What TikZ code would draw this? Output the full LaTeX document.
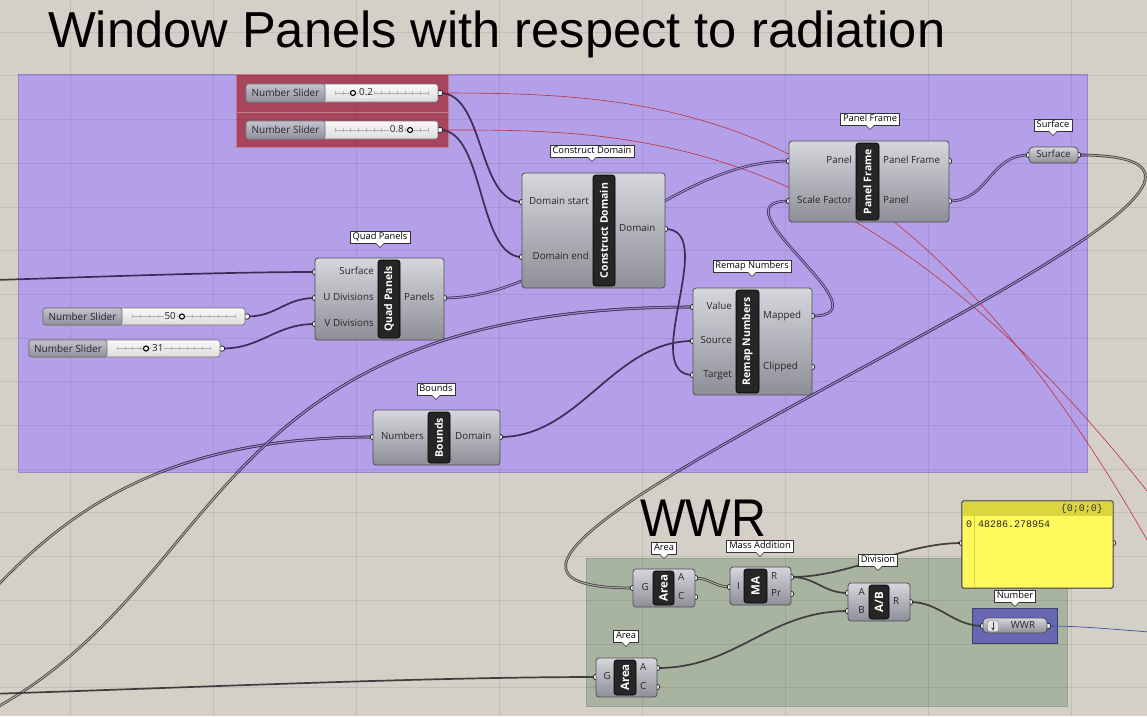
\documentclass[tikz,border=0pt]{standalone}
\usepackage{fontspec}
\setmainfont{Open Sans}
\newfontfamily\titlefont{Liberation Sans}
\newfontfamily\codefont{Liberation Mono}
\usetikzlibrary{arrows.meta}
\pgfdeclarelayer{groups}
\pgfdeclarelayer{wires}
\pgfsetlayers{groups,wires,main}

\definecolor{bgc}{HTML}{D4D0C8}
\definecolor{purplegrp}{HTML}{B4A0E8}
\definecolor{redgrp}{HTML}{A8445E}
\definecolor{greengrp}{HTML}{A8B3A0}
\definecolor{bluegrp}{HTML}{6767B4}
\definecolor{yel}{HTML}{FFF95C}
\definecolor{yelhead}{HTML}{DCD63E}
\definecolor{wirep}{HTML}{3D2C58}
\definecolor{wireg}{HTML}{3E3E3E}
\definecolor{innerp}{HTML}{9E8CCB}
\definecolor{innerg}{HTML}{A9A59D}
\definecolor{compborder}{HTML}{4E4E56}
\definecolor{comptop}{HTML}{D6D6DC}
\definecolor{compbot}{HTML}{8E8E98}
\definecolor{redwire}{HTML}{C0303A}
\definecolor{bluewire}{HTML}{4050B0}
\definecolor{slabtop}{HTML}{C4C4CE}
\definecolor{slabbot}{HTML}{8F8F9D}

\tikzset{
 grp/.style={inner sep=0pt, outer sep=0pt, line width=0.6pt},
 gridl/.style={black, opacity=0.08, line width=0.6pt},
 compbox/.style={draw=compborder, line width=0.8pt, rounded corners=3pt, top color=comptop, bottom color=compbot, inner sep=0pt, outer sep=0pt},
 stripbox/.style={draw=black, fill=black!85, rounded corners=2.5pt, line width=0.6pt, inner sep=0pt, outer sep=0pt},
 striptext/.style={rotate=90, text=white, font=\bfseries\fontsize{10.5}{10.5}\selectfont, inner sep=0pt},
 port/.style={circle, draw=black!85, fill=white, line width=0.8pt, minimum size=5.5pt, inner sep=0pt},
 knob/.style={circle, draw=black, fill=white, line width=1.1pt, minimum size=5pt, inner sep=0pt},
 plabel/.style={font=\fontsize{9.8}{9.8}\selectfont, text=black!85, inner sep=0pt, text height=7pt, text depth=2pt},
 bubble/.style={draw=black!80, fill=white, line width=0.6pt, font=\fontsize{9.3}{9.3}\selectfont, inner xsep=2.5pt, inner ysep=1.8pt, text height=7pt, text depth=1.8pt},
 sliderbox/.style={draw=black!55, line width=0.7pt, rounded corners=2.5pt, top color=white!98!black, bottom color=white!86!black, inner sep=0pt, outer sep=0pt},
 sliderlab/.style={draw=black!55, line width=0.7pt, rounded corners=2.5pt, top color=slabtop, bottom color=slabbot, inner sep=0pt, outer sep=0pt, font=\fontsize{10}{10}\selectfont, text=black!85},
 wire/.style={draw=#1, line width=1.7pt},
 lwire/.style 2 args={draw=#1, line width=0.75pt, double=#2, double distance=1.1pt},
 redw/.style={draw=redwire, line width=0.6pt},
}

\newcommand\ghbubble[3]{%
 \node[bubble] (#1) at (#2) {#3};
 \fill[white] ([xshift=-4pt,yshift=0.5pt]#1.south) -- ([yshift=-4pt]#1.south) -- ([xshift=4pt,yshift=0.5pt]#1.south) -- cycle;
 \draw[black!80, line width=0.6pt] ([xshift=-4pt]#1.south) -- ([yshift=-4pt]#1.south) -- ([xshift=4pt]#1.south);
}
\newcommand\ghcomp[8]{%
 \node[compbox, minimum width={#4-#2}, minimum height={#5-#3}] (#1) at ({(#2+#4)/2},{(#3+#5)/2}) {};
 \node[stripbox, minimum width={#7-#6}, minimum height={#5-#3-4}] (#1-st) at ({(#6+#7)/2},{(#3+#5)/2}) {};
 \node[striptext] (#1-tx) at (#1-st) {#8};
}
\newcommand\ghslider[6]{%
 \pgfmathsetmacro\sym{(#3+#5)/2}
 \node[port] (#1-o) at (#4+2,\sym) {};
 \node[sliderbox, minimum width={#4-#2}, minimum height={#5-#3}] (#1) at ({(#2+#4)/2},\sym) {};
 \pgfmathsetmacro\sta{#6+10}\pgfmathsetmacro\stb{#4-10}
 \draw[black!30, line width=0.5pt] (\sta,\sym) -- (\stb,\sym);
 \foreach \k in {0,...,12} {\draw[black!30, line width=0.4pt] ({\sta+\k*(\stb-\sta)/12},\sym-1.8) -- ({\sta+\k*(\stb-\sta)/12},\sym+1.8);}
 \node[sliderlab, minimum width={#6-#2}, minimum height={#5-#3}] (#1-lb) at ({(#2+#6)/2},\sym) {Number Slider};
}

\begin{document}
\begin{tikzpicture}[x=1pt,y=-1pt]
\useasboundingbox (0,0) rectangle (1147,716);

\begin{pgfonlayer}{groups}
\clip (0,0) rectangle (1147,716);
\fill[bgc] (0,0) rectangle (1147,716);
\node[grp, fill=purplegrp, draw=purplegrp!85!black, minimum width=1069, minimum height=398] (gP) at (552.5,273) {};
\node[grp, fill=redgrp, draw=redgrp!70!white, minimum width=212, minimum height=38] (gR1) at (342,93) {};
\node[grp, fill=redgrp, draw=redgrp!70!white, minimum width=212, minimum height=35] (gR2) at (342,129.5) {};
\node[grp, fill=greengrp, draw=greengrp!90!black, minimum width=481, minimum height=148] (gG) at (826.5,632) {};
\node[grp, fill=bluegrp, draw=bluegrp!60!black, minimum width=85, minimum height=35] (gB) at (1014.5,625.5) {};
\foreach \gx in {70,213,356,499,642,785,928,1071} {\draw[gridl] (\gx,0) -- (\gx,716);}
\foreach \k in {0,...,15} {\draw[gridl] (0,{32+43.7*\k}) -- (1147,{32+43.7*\k});}
\end{pgfonlayer}

% titles
\node[anchor=base west, inner sep=0pt, font=\titlefont\fontsize{50.6}{56}\selectfont] (title) at (48,47) {Window Panels with respect to radiation};
\node[anchor=base west, inner sep=0pt, font=\titlefont\fontsize{52}{52}\selectfont] (wwrtitle) at (640,536) {\scalebox{0.93}[1.02]{WWR}};

% sliders
\ghslider{s1}{246}{84}{438}{102}{325}
\node[plabel, anchor=west, fill=white!93!black, inner xsep=1pt] (s1-v) at (358,93) {0.2};
\node[knob] (s1-k) at (353,93) {};
\ghslider{s2}{246}{121}{438}{139}{325}
\node[plabel, anchor=east, fill=white!92!black, inner xsep=1pt] (s2-v) at (405,130) {0.8};
\node[knob] (s2-k) at (410,130) {};
\ghslider{s3}{43}{308}{245}{325}{122}
\node[plabel, anchor=east, fill=white!92!black, inner xsep=1pt] (s3-v) at (177,316.5) {50};
\node[knob] (s3-k) at (182,316.5) {};
\ghslider{s4}{29}{340}{220}{357}{107}
\node[plabel, anchor=west, fill=white!92!black, inner xsep=1pt] (s4-v) at (151,348.5) {31};
\node[knob] (s4-k) at (146,348.5) {};

% Quad Panels
\node[port] (qp-s) at (315,272) {};
\node[port] (qp-u) at (315,298) {};
\node[port] (qp-v) at (315,324) {};
\node[port] (qp-p) at (444,298) {};
\ghcomp{qp}{315}{258}{444}{340}{378}{400}{Quad Panels}
\node[plabel, anchor=east] (qp-sl) at (374,272) {Surface};
\node[plabel, anchor=east] (qp-ul) at (374,298) {U Divisions};
\node[plabel, anchor=east] (qp-vl) at (374,324) {V Divisions};
\node[plabel, anchor=west] (qp-pl) at (404,298) {Panels};
\ghbubble{qp-lab}{380,237}{Quad Panels}

% Construct Domain
\node[port] (cd-s) at (522,202) {};
\node[port] (cd-e) at (522,257) {};
\node[port] (cd-d) at (665,229) {};
\ghcomp{cd}{522}{173}{665}{288}{593}{615}{Construct Domain}
\node[plabel, anchor=east] (cd-sl) at (589,202) {Domain start};
\node[plabel, anchor=east] (cd-el) at (589,257) {Domain end};
\node[plabel, anchor=west] (cd-dl) at (619,229) {Domain};
\ghbubble{cd-lab}{592,151}{Construct Domain}

% Panel Frame
\node[port] (pf-p) at (789,161) {};
\node[port] (pf-sf) at (789,201) {};
\node[port] (pf-pf) at (949,161) {};
\node[port] (pf-pn) at (949,201) {};
\ghcomp{pf}{789}{141}{949}{222}{856}{879}{Panel Frame}
\node[plabel, anchor=east] (pf-pl) at (852,161) {Panel};
\node[plabel, anchor=east] (pf-sfl) at (852,201) {Scale Factor};
\node[plabel, anchor=west] (pf-pfl) at (883,161) {Panel Frame};
\node[plabel, anchor=west] (pf-pnl) at (883,201) {Panel};
\ghbubble{pf-lab}{870,119}{Panel Frame}

% Surface param
\node[port] (sf-i) at (1029,155) {};
\node[port] (sf-o) at (1078,155) {};
\node[compbox, rounded corners=4pt, minimum width=49, minimum height=16] (sf) at (1053.5,155) {};
\node[plabel] (sf-t) at (1053.5,155) {Surface};
\ghbubble{sf-lab}{1053,125}{Surface}

% Remap Numbers
\node[port] (rn-v) at (693,307) {};
\node[port] (rn-s) at (693,341) {};
\node[port] (rn-t) at (693,375) {};
\node[port] (rn-m) at (812,316) {};
\node[port] (rn-c) at (812,367) {};
\ghcomp{rn}{693}{288}{812}{395}{736}{759}{Remap Numbers}
\node[plabel, anchor=east] (rn-vl) at (732,307) {Value};
\node[plabel, anchor=east] (rn-sl) at (732,341) {Source};
\node[plabel, anchor=east] (rn-tl) at (732,375) {Target};
\node[plabel, anchor=west] (rn-ml) at (763,316) {Mapped};
\node[plabel, anchor=west] (rn-cl) at (763,367) {Clipped};
\ghbubble{rn-lab}{752,266}{Remap Numbers}

% Bounds
\node[port] (bd-n) at (373,437) {};
\node[port] (bd-d) at (500,437) {};
\ghcomp{bd}{373}{410}{500}{465}{428}{450}{Bounds}
\node[plabel, anchor=east] (bd-nl) at (424,437) {Numbers};
\node[plabel, anchor=west] (bd-dl) at (455,437) {Domain};
\ghbubble{bd-lab}{436,389}{Bounds}

% Area 1
\node[port] (a1-g) at (633,588) {};
\node[port] (a1-a) at (695,578) {};
\node[port] (a1-c) at (695,597) {};
\ghcomp{a1}{633}{569}{695}{607}{653}{674}{\fontsize{11.5}{11.5}\selectfont Area}
\node[plabel, anchor=east] (a1-gl) at (649,588) {G};
\node[plabel, anchor=west] (a1-al) at (678,578) {A};
\node[plabel, anchor=west] (a1-cl) at (678,597) {C};
\ghbubble{a1-lab}{664,548}{Area}

% Mass Addition
\node[port] (ma-i) at (730,587) {};
\node[port] (ma-r) at (791,577) {};
\node[port] (ma-p) at (791,594) {};
\ghcomp{ma}{730}{567}{791}{605}{744}{767}{\fontsize{11.5}{11.5}\selectfont MA}
\node[plabel, anchor=east] (ma-il) at (740,587) {I};
\node[plabel, anchor=west] (ma-rl) at (771,577) {R};
\node[plabel, anchor=west] (ma-pl) at (771,594) {Pr};
\ghbubble{ma-lab}{760,546}{Mass Addition}

% Division
\node[port] (dv-a) at (848,593) {};
\node[port] (dv-b) at (848,611) {};
\node[port] (dv-r) at (910,602) {};
\ghcomp{dv}{848}{583}{910}{621}{869}{889}{\fontsize{11.5}{11.5}\selectfont A/B}
\node[plabel, anchor=east] (dv-al) at (865,593) {A};
\node[plabel, anchor=east] (dv-bl) at (865,611) {B};
\node[plabel, anchor=west] (dv-rl) at (893,602) {R};
\ghbubble{dv-lab}{878,560}{Division}

% Area 2
\node[port] (a2-g) at (596,677) {};
\node[port] (a2-a) at (657,668) {};
\node[port] (a2-c) at (657,687) {};
\ghcomp{a2}{596}{658}{657}{697}{614}{636}{\fontsize{11.5}{11.5}\selectfont Area}
\node[plabel, anchor=east] (a2-gl) at (611,677) {G};
\node[plabel, anchor=west] (a2-al) at (640,668) {A};
\node[plabel, anchor=west] (a2-cl) at (640,687) {C};
\ghbubble{a2-lab}{626,636}{Area}

% Yellow panel
\node[port] (yp-i) at (962,543) {};
\node[port] (yp-o) at (1113,543) {};
\node[fill=yel, draw=black!70, line width=0.7pt, rounded corners=2pt, minimum width=151, minimum height=87, inner sep=0pt] (yp) at (1037.5,544.5) {};
\node[fill=yelhead, minimum width=149.5, minimum height=14, inner sep=0pt] (yp-h) at (1037.5,508.5) {};
\draw[black!70, line width=0.7pt, rounded corners=2pt] (yp.south west) rectangle (yp.north east);
\draw[yelhead, line width=0.6pt] (974,516) -- (974,587);
\node[anchor=east, inner sep=0pt, font=\codefont\fontsize{10}{10}\selectfont, text=black!80] (yp-hd) at (1103,508.5) {\{0;0;0\}};
\node[anchor=west, inner sep=0pt, font=\codefont\fontsize{10}{10}\selectfont, text=black!85] (yp-val) at (966,524) {0 48286.278954};

% Number param
\node[port] (nm-i) at (983,626) {};
\node[port] (nm-o) at (1048,626) {};
\node[compbox, rounded corners=4pt, minimum width=64, minimum height=15] (nm) at (1015,625.5) {};
\node[draw=black!55, fill=white!90!black, rounded corners=1.5pt, minimum width=11, minimum height=11, inner sep=0pt] (nm-ic) at (993,626) {};
\draw[-{Stealth[length=3pt,width=3.5pt]}, line width=0.8pt, black!75] (993,621.5) -- (993,630.5);
\node[plabel] (nm-t) at (1023,626) {WWR};
\ghbubble{nm-lab}{1015,596}{Number}

% off-canvas ends
\coordinate (wA) at (-493,863);
\coordinate (wB) at (-341,779);
\coordinate (wS) at (-200,284);
\coordinate (wG) at (-300,700);
\coordinate (rE1) at (1230,700);
\coordinate (rE2) at (1260,650);
\coordinate (bE) at (1200,634);

\begin{pgfonlayer}{wires}
\clip (0,0) rectangle (1147,716);
\draw[redw] (s1-o.center) .. controls (700,93) and (950,110) .. (rE1);
\draw[redw] (s2-o.center) .. controls (650,130) and (920,125) .. (rE2);
% long wires, outside colours
\draw[lwire={wireg}{innerg}] (wA) .. controls +(500,0) and +(-500,0) .. (bd-n.center);
\draw[lwire={wireg}{innerg}] (wB) .. controls +(640,0) and +(-640,0) .. (rn-v.center);
\draw[lwire={wireg}{innerg}] (sf-o.center) .. controls +(350,0) and +(-350,0) .. (a1-g.center);
\begin{scope}
\clip (18,74) rectangle (1087,472);
\draw[lwire={wirep}{innerp}] (wA) .. controls +(500,0) and +(-500,0) .. (bd-n.center);
\draw[lwire={wirep}{innerp}] (wB) .. controls +(640,0) and +(-640,0) .. (rn-v.center);
\draw[lwire={wirep}{innerp}] (sf-o.center) .. controls +(350,0) and +(-350,0) .. (a1-g.center);
\draw[wire=wirep] (wS) .. controls +(150,0) and +(-150,0) .. (qp-s.center);
\end{scope}
\begin{scope}
\clip (0,0) rectangle (18,716);
\draw[wire=wireg] (wS) .. controls +(150,0) and +(-150,0) .. (qp-s.center);
\end{scope}
\draw[wire=wirep] (s3-o.center) .. controls +(30,0) and +(-30,0) .. (qp-u.center);
\draw[wire=wirep] (s4-o.center) .. controls +(40,0) and +(-40,0) .. (qp-v.center);
\draw[wire=wirep] (s1-o.center) .. controls +(45,0) and +(-45,0) .. (cd-s.center);
\draw[wire=wirep] (s2-o.center) .. controls +(45,0) and +(-45,0) .. (cd-e.center);
\draw[lwire={wirep}{innerp}] (qp-p.center) .. controls +(120,0) and +(-120,0) .. (pf-p.center);
\draw[wire=wirep] (cd-d.center) .. controls +(55,0) and +(-55,0) .. (rn-t.center);
\draw[wire=wirep] (bd-d.center) .. controls +(80,0) and +(-80,0) .. (rn-s.center);
\draw[lwire={wirep}{innerp}] (rn-m.center) .. controls +(80,0) and +(-80,0) .. (pf-sf.center);
\draw[lwire={wirep}{innerp}] (pf-pn.center) .. controls +(40,0) and +(-40,0) .. (sf-i.center);
\draw[wire=wireg] (wG) .. controls +(250,0) and +(-250,0) .. (a2-g.center);
\draw[lwire={wireg}{innerg}] (a1-a.center) .. controls +(15,0) and +(-15,0) .. (ma-i.center);
\draw[wire=wireg] (ma-r.center) .. controls +(25,0) and +(-25,0) .. (dv-a.center);
\draw[wire=wireg] (ma-r.center) .. controls +(60,0) and +(-60,0) .. (yp-i.center);
\draw[wire=wireg] (a2-a.center) .. controls +(80,0) and +(-80,0) .. (dv-b.center);
\draw[wire=wireg] (dv-r.center) .. controls +(30,0) and +(-30,0) .. (nm-i.center);
\draw[bluewire, line width=0.7pt] (nm-o.center) .. controls +(50,0) and +(-50,0) .. (bE);
\end{pgfonlayer}
\end{tikzpicture}
\end{document}
